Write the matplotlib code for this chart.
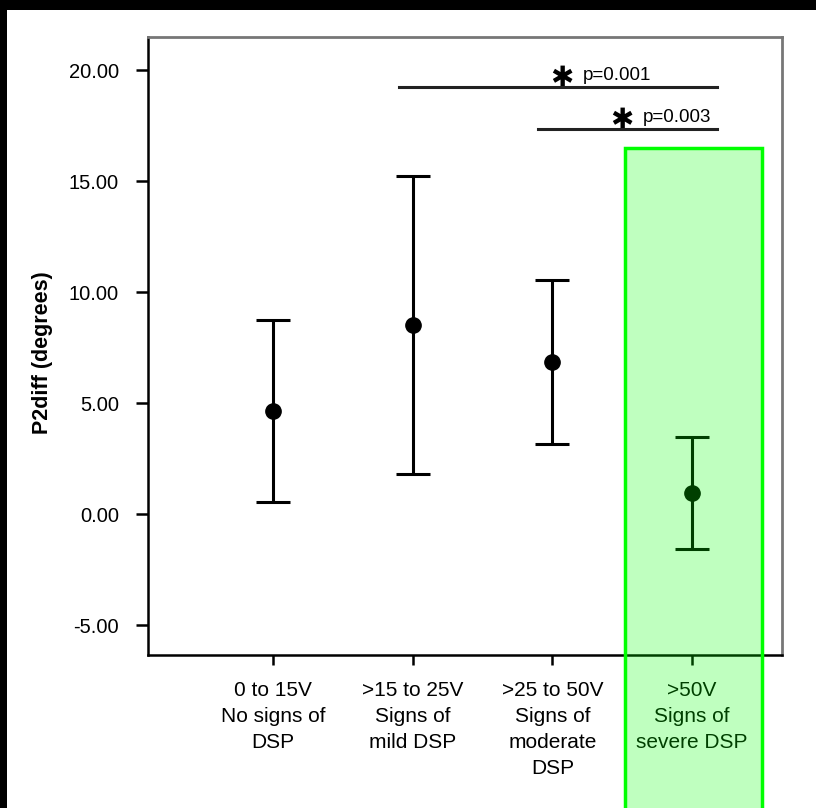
import matplotlib
matplotlib.use("Agg")
import matplotlib.pyplot as plt
from matplotlib.patches import Rectangle

plt.rcParams['font.family'] = ['Liberation Sans', 'DejaVu Sans']

# groups and values (mean, upper and lower limit of the error bars)
groups = ["0 to 15V\nNo signs of\nDSP",
          ">15 to 25V\nSigns of\nmild DSP",
          ">25 to 50V\nSigns of\nmoderate\nDSP",
          ">50V\nSigns of\nsevere DSP"]
means = [4.65, 8.51, 6.85, 0.95]
upper = [8.75, 15.22, 10.54, 3.47]
lower = [0.55, 1.80, 3.15, -1.58]

yticks = [-5, 0, 5, 10, 15, 20]

# significance bars: (x start, x end, y, label, label x)
sig_bars = [(1.90, 4.18, 19.23, "p=0.001", 3.215),
            (2.90, 4.18, 17.34, "p=0.003", 3.645)]

# highlighted group box (data coords)
hl_x0, hl_x1, hl_top = 3.52, 4.50, 16.5

x = list(range(1, len(groups) + 1))
err_lo = [m - l for m, l in zip(means, lower)]
err_hi = [u - m for m, u in zip(means, upper)]

fig = plt.figure(figsize=(8.16, 8.08), dpi=100)
ax = fig.add_axes([0.1814, 0.1894, 0.7769, 0.7648])

ax.errorbar(x, means, yerr=[err_lo, err_hi], fmt='o', color='black',
            markersize=11, elinewidth=2.2, capsize=12.5, capthick=2.2)

ax.set_xlim(0.104, 4.645)
ax.set_ylim(-6.35, 21.5)
ax.set_xticks(x)
ax.set_xticklabels(groups, fontsize=15, linespacing=1.45)
ax.set_yticks(yticks)
ax.set_yticklabels(["%.2f" % v for v in yticks], fontsize=14.5)
ax.tick_params(axis='y', length=9, width=1.8, pad=12)
ax.tick_params(axis='x', length=7, width=1.8, pad=12)

ax.set_ylabel("P2diff (degrees)", fontsize=15.5, fontweight='bold')
ax.yaxis.set_label_coords(-0.15, 0.49)

for s in ['left', 'bottom']:
    ax.spines[s].set_linewidth(1.8)
    ax.spines[s].set_color('black')
for s in ['top', 'right']:
    ax.spines[s].set_linewidth(2)
    ax.spines[s].set_color('#777777')

for x0, x1, y, lab, lx in sig_bars:
    ax.plot([x0, x1], [y, y], color='#222222', lw=2.2)
    ax.text(lx, y + 0.55, lab, fontsize=13.5, ha='left', va='center')
    ax.text(lx - 0.15, y + 0.42, "\u2731", fontsize=20, ha='center',
            va='center', family='DejaVu Sans')

box = Rectangle((hl_x0, -20), hl_x1 - hl_x0, hl_top + 20,
                facecolor=(0, 1, 0, 0.25), edgecolor=(0, 1, 0, 1),
                linewidth=2.5, zorder=10, clip_on=False)
ax.add_patch(box)

# black frame strips at the top and left of the picture
fig.patches.append(Rectangle((0, 1 - 10 / 808), 1, 10 / 808, transform=fig.transFigure,
                             facecolor='black', edgecolor='none', zorder=20))
fig.patches.append(Rectangle((0, 0), 7 / 816, 1, transform=fig.transFigure,
                             facecolor='black', edgecolor='none', zorder=20))

fig.savefig("out.png", dpi=100)
